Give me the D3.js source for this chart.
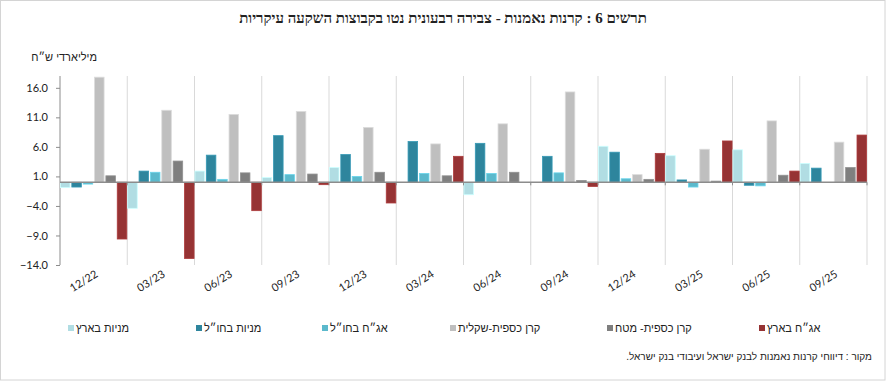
<!DOCTYPE html>
<html>
<head>
<meta charset="utf-8">
<script src="https://cdn.jsdelivr.net/npm/d3@7"></script>
<style>
  body { margin: 0; background: #fff; }
  svg { display: block; }
  text { font-family: "Liberation Sans", Arial, sans-serif; fill: #222; }
</style>
</head>
<body>
<div id="container"></div>
<script>
// data (billions NIS)
var quarters = ["12/22", "03/23", "06/23", "09/23", "12/23", "03/24", "06/24", "09/24", "12/24", "03/25", "06/25", "09/25"];
var seriesNames = ["מניות בארץ", "מניות בחו\u05F4ל", "אג\u05F4ח בחו\u05F4ל", "קרן כספית-שקלית", "קרן כספית- מטח", "אג\u05F4ח בארץ"];
var seriesColors = ["#b1dde3", "#2e859d", "#5bb9cc", "#bfbfbf", "#7f7f7f", "#963334"];

var sharesIL     = [-0.9, -4.4, 1.9, 0.8, 2.5, 0.0, -2.1, 0.0, 6.1, 4.5, 5.5, 3.2];
var sharesAbroad = [-0.8, 1.9, 4.6, 7.9, 4.7, 6.9, 6.6, 4.4, 5.1, 0.4, -0.5, 2.4];
var bondsAbroad  = [-0.3, 1.7, 0.5, 1.3, 1.0, 1.5, 1.5, 1.6, 0.6, -0.8, -0.6, 0.0];
var mmfShekel    = [17.8, 12.2, 11.5, 12.0, 9.3, 6.5, 9.9, 15.3, 1.3, 5.6, 10.4, 6.8];
var mmfForex     = [1.1, 3.6, 1.6, 1.4, 1.7, 1.1, 1.7, 0.3, 0.5, 0.2, 1.2, 2.5];
var bondsIL      = [-9.6, -12.9, -4.8, -0.4, -3.5, 4.4, 0.0, -0.7, 4.9, 7.0, 1.9, 8.0];
var yTicks = [-14, -9, -4, 1, 6, 11, 16];

var allSeries = [sharesIL, sharesAbroad, bondsAbroad, mmfShekel, mmfForex, bondsIL];

var W = 886, H = 381;
var svg = d3.select("#container").append("svg")
  .attr("width", W).attr("height", H);

// frame
svg.append("rect")
  .attr("x", 0.5).attr("y", 0.5).attr("width", W - 1.5).attr("height", H - 1.5)
  .attr("fill", "none").attr("stroke", "#d4d4d4");

var plotLeft = 60, plotRight = 867, plotTop = 76, plotBottom = 265;

var x = d3.scaleBand().domain(quarters).range([plotLeft, plotRight]).padding(0);
var xs = d3.scaleBand().domain(d3.range(seriesNames.length))
  .range([0, x.bandwidth()]).paddingInner(0.16).paddingOuter(0.04);
var y = d3.scaleLinear().domain([-14, 18]).range([plotBottom, plotTop]);

// title
svg.append("text")
  .attr("x", 443).attr("y", 23)
  .attr("text-anchor", "middle")
  .style("font-family", "'Liberation Serif', 'DejaVu Serif', serif")
  .style("font-size", "15px")
  .style("font-weight", "bold")
  .text("תרשים 6 : קרנות נאמנות - צבירה רבעונית נטו בקבוצות השקעה עיקריות");

// units
svg.append("text")
  .attr("x", 97).attr("y", 61)
  .attr("text-anchor", "end")
  .style("font-size", "11px")
  .text("מיליארדי ש\u05F4ח");

// vertical grid at band edges
var edges = quarters.map(function(q) { return x(q); }).concat([plotRight]);
svg.append("g").selectAll("line").data(edges.slice(1)).enter().append("line")
  .attr("x1", function(d) { return d; }).attr("x2", function(d) { return d; })
  .attr("y1", plotTop).attr("y2", plotBottom)
  .attr("stroke", "#d9d9d9").attr("stroke-width", 1);

// y axis
var yAxis = svg.append("g")
  .attr("transform", "translate(" + plotLeft + ",0)")
  .call(d3.axisLeft(y).tickValues(yTicks).tickFormat(d3.format(".1f")).tickSize(4).tickPadding(8));
yAxis.select(".domain").attr("stroke", "#8c8c8c").attr("d", "M0," + plotTop + "V" + plotBottom);
yAxis.selectAll(".tick line").attr("stroke", "#8c8c8c");
yAxis.selectAll(".tick text")
  .style("font-family", "Lato, 'Liberation Sans', sans-serif")
  .style("font-size", "11px").attr("fill", "#222");

// bars
var groups = svg.append("g").selectAll("g").data(quarters).enter().append("g")
  .attr("transform", function(d) { return "translate(" + x(d) + ",0)"; });

groups.selectAll("rect")
  .data(function(q, qi) {
    return allSeries.map(function(s, si) { return { si: si, v: s[qi] }; });
  })
  .enter().append("rect")
  .attr("x", function(d) { return xs(d.si); })
  .attr("width", xs.bandwidth())
  .attr("y", function(d) { return y(Math.max(0, d.v)); })
  .attr("height", function(d) { return Math.abs(y(d.v) - y(0)); })
  .attr("fill", function(d) { return seriesColors[d.si]; })
  .attr("stroke", function(d) { return d3.color(seriesColors[d.si]).brighter(0.4); })
  .attr("stroke-width", 0.8);

// zero line
svg.append("line")
  .attr("x1", plotLeft).attr("x2", plotRight)
  .attr("y1", y(0)).attr("y2", y(0))
  .attr("stroke", "#8c8c8c").attr("stroke-width", 1.5);
svg.append("g").selectAll("line").data(edges.slice(1)).enter().append("line")
  .attr("x1", function(d) { return d; }).attr("x2", function(d) { return d; })
  .attr("y1", y(0)).attr("y2", y(0) + 3)
  .attr("stroke", "#8c8c8c");

// x labels
svg.append("g").selectAll("text").data(quarters).enter().append("text")
  .attr("transform", function(d) {
    return "translate(" + (x(d) + x.bandwidth() / 2 + 5) + ",276) rotate(-32)";
  })
  .attr("text-anchor", "end")
  .style("font-family", "Lato, 'Liberation Sans', sans-serif")
  .style("font-size", "11px")
  .text(function(d) { return d; });

// legend
var legendX = [68, 196, 322, 450, 607, 759];
var legend = svg.append("g").selectAll("g").data(seriesNames).enter().append("g")
  .attr("transform", function(d, i) { return "translate(" + legendX[i] + ",328)"; });
legend.append("rect")
  .attr("x", 0).attr("y", -3).attr("width", 6).attr("height", 6)
  .attr("fill", function(d, i) { return seriesColors[i]; });
legend.append("text")
  .attr("x", 8).attr("y", 4)
  .attr("direction", "rtl")
  .attr("text-anchor", "end")
  .style("font-size", "11px")
  .text(function(d) { return d; });

// source
svg.append("text")
  .attr("x", 872).attr("y", 360)
  .attr("direction", "rtl")
  .attr("text-anchor", "start")
  .style("font-size", "10px")
  .text("מקור : דיווחי קרנות נאמנות לבנק ישראל ועיבודי בנק ישראל.");
</script>
</body>
</html>
